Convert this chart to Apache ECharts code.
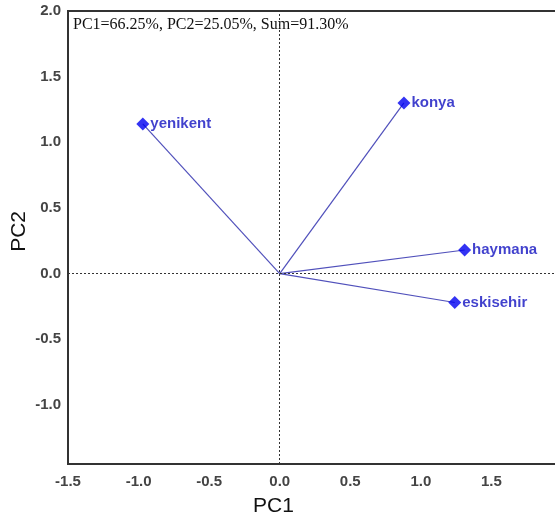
<!DOCTYPE html>
<html>
<head>
<meta charset="utf-8">
<script src="https://cdn.jsdelivr.net/npm/echarts@6/dist/echarts.min.js"></script>
<style>
  html, body { margin: 0; padding: 0; background: #ffffff; overflow: hidden; }
  #chart { width: 570px; height: 524px; }
</style>
</head>
<body>
<div id="chart"></div>
<script>
// Site loadings on the first two principal components
const sites = ['yenikent', 'konya', 'haymana', 'eskisehir'];
const pc1 = [-0.97, 0.88, 1.31, 1.24];
const pc2 = [1.14, 1.30, 0.18, -0.22];

const xTicks = [-1.5, -1.0, -0.5, 0.0, 0.5, 1.0, 1.5];
const yTicks = [-1.0, -0.5, 0.0, 0.5, 1.0, 1.5, 2.0];

const summaryText = 'PC1=66.25%, PC2=25.05%, Sum=91.30%';

// The canvas is a little wider than the window so the plot's right edge runs past it
const chart = echarts.init(document.getElementById('chart'), null, { renderer: 'canvas' });

const vectorColor = '#5050bb';
const pointColor = '#0000f0';
const labelColor = '#1212c0';
const tickStyle = { color: '#444', fontSize: 15, fontWeight: 'bold', fontFamily: 'Liberation Sans, Arial, sans-serif' };

// One line from the origin to each site
const vectorSeries = sites.map((name, i) => ({
  type: 'line',
  name: name + '-vector',
  data: [[0, 0], [pc1[i], pc2[i]]],
  showSymbol: false,
  symbol: 'none',
  lineStyle: { color: vectorColor, width: 1.2 },
  silent: true,
  z: 2
}));

const option = {
  animation: false,
  backgroundColor: '#ffffff',
  grid: {
    left: 68, top: 11, right: 8, bottom: 60,
    outerBoundsMode: 'none',
    show: true, borderColor: '#333', borderWidth: 2, backgroundColor: 'transparent'
  },
  xAxis: {
    type: 'value', min: -1.5, max: 2.0,
    axisLine: { show: true, onZero: false, lineStyle: { color: '#333', width: 2 } },
    axisTick: { show: false },
    splitLine: { show: false },
    axisLabel: Object.assign({ margin: 10, customValues: xTicks, formatter: v => v.toFixed(1) }, tickStyle)
  },
  yAxis: {
    type: 'value', min: -1.45, max: 2.0,
    axisLine: { show: true, onZero: false, lineStyle: { color: '#333', width: 2 } },
    axisTick: { show: false },
    splitLine: { show: false },
    axisLabel: Object.assign({ margin: 7, customValues: yTicks, formatter: v => v.toFixed(1) }, tickStyle)
  },
  graphic: [
    {
      type: 'text', left: 73, top: 17, silent: true,
      style: { text: summaryText, fill: '#111', font: '16px "Liberation Serif", "Times New Roman", serif' }
    },
    {
      type: 'text', left: 253, top: 496, silent: true,
      style: { text: 'PC1', fill: '#111', font: '21px "Liberation Sans", Arial, sans-serif' }
    },
    {
      type: 'text', left: 9, top: 211, rotation: Math.PI / 2, silent: true,
      style: { text: 'PC2', fill: '#111', font: '21px "Liberation Sans", Arial, sans-serif' }
    }
  ],
  series: [
    {
      type: 'line',
      name: 'reference',
      data: [],
      silent: true,
      markLine: {
        silent: true,
        symbol: 'none',
        label: { show: false },
        lineStyle: { color: '#333', type: [2, 2], width: 1 },
        data: [{ xAxis: 0 }, { yAxis: 0 }]
      },
      z: 1
    },
    ...vectorSeries,
    {
      type: 'scatter',
      name: 'sites',
      data: sites.map((name, i) => ({ name: name, value: [pc1[i], pc2[i]] })),
      symbol: 'diamond',
      symbolSize: [13, 13],
      itemStyle: { color: pointColor },
      label: {
        show: true, position: 'right', distance: 1,
        formatter: p => p.name,
        color: labelColor, fontSize: 15, fontWeight: 'bold',
        fontFamily: 'Liberation Sans, Arial, sans-serif'
      },
      z: 3
    }
  ]
};

chart.setOption(option);
</script>
</body>
</html>
